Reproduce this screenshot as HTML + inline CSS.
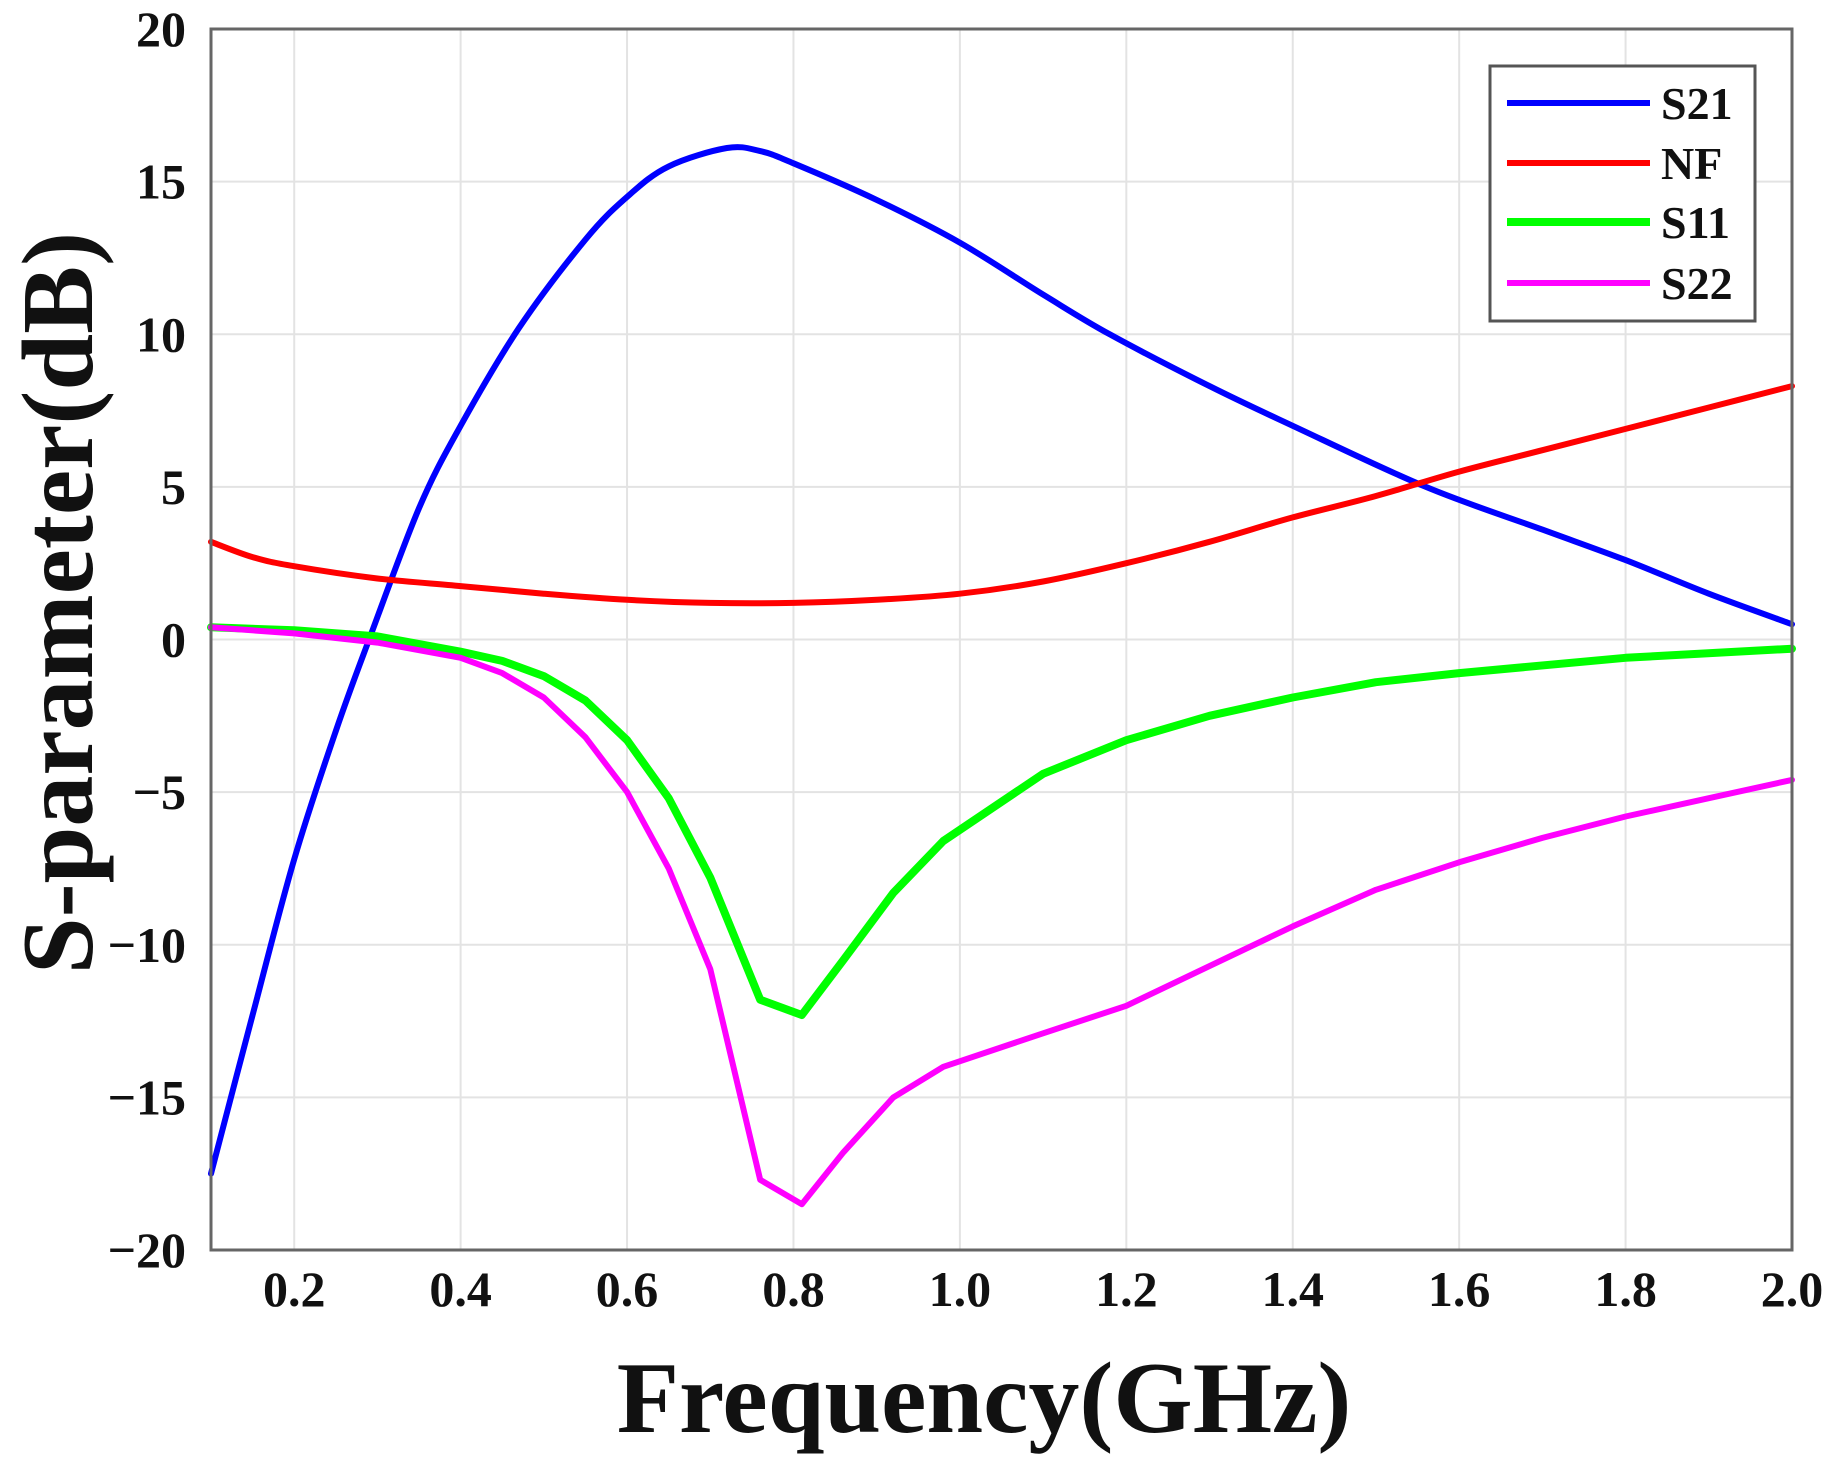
<!DOCTYPE html>
<html><head><meta charset="utf-8"><style>
html,body{margin:0;padding:0;background:#fff;}
svg{display:block;font-family:"Liberation Serif",serif;font-weight:bold;}
</style></head><body>
<svg id="s" width="1828" height="1465" viewBox="0 0 1828 1465" xmlns="http://www.w3.org/2000/svg">
<g id="grid" stroke="#e3e3e3" stroke-width="2"></g>
<g id="ticks" font-size="50" fill="#111"></g>
<g id="curves" fill="none" stroke-linejoin="round" stroke-linecap="round"></g>
<rect x="211" y="29" width="1581" height="1221" fill="none" stroke="#666" stroke-width="3"/>
<g>
<rect x="1490" y="66" width="265" height="255" fill="#fff" stroke="#555" stroke-width="3"/>
<line x1="1507" y1="103" x2="1650" y2="103" stroke="#0000ff" stroke-width="6"/>
<line x1="1507" y1="163" x2="1650" y2="163" stroke="#ff0000" stroke-width="6"/>
<line x1="1507" y1="222" x2="1650" y2="222" stroke="#00ff00" stroke-width="8"/>
<line x1="1507" y1="283" x2="1650" y2="283" stroke="#ff00ff" stroke-width="6"/>
<g font-size="46" fill="#111">
<text x="1661" y="119">S21</text>
<text x="1661" y="179">NF</text>
<text x="1661" y="238">S11</text>
<text x="1661" y="299">S22</text>
</g>
</g>
<text x="984" y="1432" font-size="102" text-anchor="middle" fill="#111">Frequency(GHz)</text>
<text transform="translate(92,603) rotate(-90)" font-size="102" text-anchor="middle" fill="#111">S-parameter(dB)</text>
</svg>
<script>
var NS="http://www.w3.org/2000/svg";
function X(f){return 211+(f-0.1)*1581/1.9;}
function Y(v){return 29+(20-v)*1221/40;}
function el(p,t,a,txt){var e=document.createElementNS(NS,t);for(var k in a)e.setAttribute(k,a[k]);if(txt)e.textContent=txt;document.getElementById(p).appendChild(e);}
for(var f=2;f<=18;f+=2){var x=X(f/10);el("grid","line",{x1:x,y1:29,x2:x,y2:1250});
el("ticks","text",{x:x,y:1306,"text-anchor":"middle"},(f/10).toFixed(1));}
el("ticks","text",{x:1792,y:1306,"text-anchor":"middle"},"2.0");
for(var v=-20;v<=20;v+=5){var y=Y(v);if(v>-20&&v<20)el("grid","line",{x1:211,y1:y,x2:1792,y2:y});
el("ticks","text",{x:186,y:y+17,"text-anchor":"end"},v<0?"\u2212"+(-v):""+v);}
var D={
S21:{c:"#0000ff",w:6,s:1,d:[[0.1,-17.5],[0.15,-12.3],[0.2,-7.2],[0.25,-3],[0.29,0],[0.35,4.3],[0.4,7],[0.47,10.2],[0.55,13.1],[0.6,14.5],[0.65,15.5],[0.72,16.1],[0.76,16],[0.8,15.6],[0.9,14.4],[1.0,13],[1.1,11.3],[1.18,10],[1.3,8.3],[1.4,7.0],[1.56,5],[1.7,3.6],[1.8,2.6],[1.9,1.5],[2.0,0.5]]},
NF:{c:"#ff0000",w:6,s:1,d:[[0.1,3.2],[0.15,2.7],[0.2,2.4],[0.3,2.0],[0.4,1.75],[0.5,1.5],[0.6,1.3],[0.7,1.2],[0.8,1.2],[0.9,1.3],[1.0,1.5],[1.1,1.9],[1.2,2.5],[1.3,3.2],[1.4,4.0],[1.5,4.7],[1.6,5.5],[1.7,6.2],[1.8,6.9],[1.9,7.6],[2.0,8.3]]},
S11:{c:"#00ff00",w:8,d:[[0.1,0.4],[0.2,0.3],[0.3,0.1],[0.4,-0.4],[0.45,-0.7],[0.5,-1.2],[0.55,-2],[0.6,-3.3],[0.65,-5.2],[0.7,-7.8],[0.76,-11.8],[0.81,-12.3],[0.86,-10.5],[0.92,-8.3],[0.98,-6.6],[1.1,-4.4],[1.2,-3.3],[1.3,-2.5],[1.4,-1.9],[1.5,-1.4],[1.6,-1.1],[1.8,-0.6],[2.0,-0.3]]},
S22:{c:"#ff00ff",w:6,d:[[0.1,0.4],[0.2,0.2],[0.3,-0.1],[0.4,-0.6],[0.45,-1.1],[0.5,-1.9],[0.55,-3.2],[0.6,-5],[0.65,-7.5],[0.7,-10.8],[0.76,-17.7],[0.81,-18.5],[0.86,-16.8],[0.92,-15],[0.98,-14],[1.1,-12.9],[1.2,-12],[1.3,-10.7],[1.4,-9.4],[1.5,-8.2],[1.6,-7.3],[1.7,-6.5],[1.8,-5.8],[1.9,-5.2],[2.0,-4.6]]}};
["S21","NF","S11","S22"].forEach(function(k){var s=D[k];var P=s.d.map(function(q){return [X(q[0]),Y(q[1])];});var p;
if(s.s){p="M"+P[0][0]+","+P[0][1];for(var i=0;i<P.length-1;i++){var a=P[Math.max(i-1,0)],b=P[i],c=P[i+1],d=P[Math.min(i+2,P.length-1)];
p+="C"+(b[0]+(c[0]-a[0])/6).toFixed(1)+","+(b[1]+(c[1]-a[1])/6).toFixed(1)+" "+(c[0]-(d[0]-b[0])/6).toFixed(1)+","+(c[1]-(d[1]-b[1])/6).toFixed(1)+" "+c[0].toFixed(1)+","+c[1].toFixed(1);}}
else p=P.map(function(q,i){return (i?"L":"M")+q[0].toFixed(1)+","+q[1].toFixed(1);}).join("");
el("curves","path",{d:p,stroke:s.c,"stroke-width":s.w});});
</script>
</body></html>
